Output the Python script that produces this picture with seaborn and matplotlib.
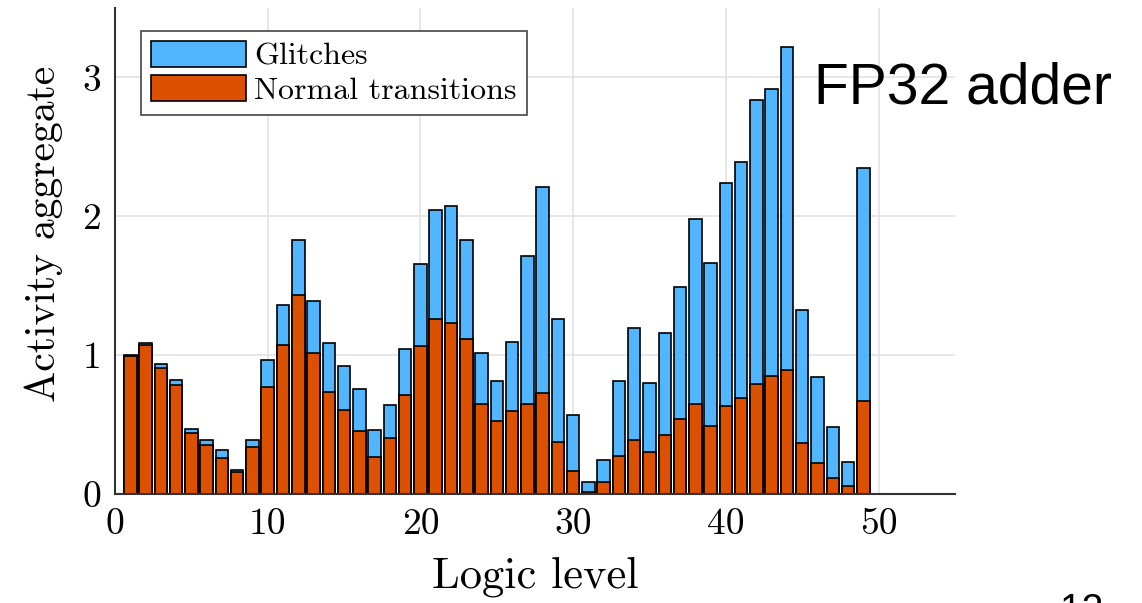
import matplotlib
matplotlib.use("Agg")
import matplotlib.pyplot as plt
from matplotlib.patches import Patch
import seaborn as sns
import pandas as pd

levels = list(range(1, 50))
total = [1.00, 1.09, 0.935, 0.82, 0.465, 0.386, 0.314, 0.173, 0.388, 0.962,
         1.362, 1.827, 1.39, 1.089, 0.923, 0.758, 0.458, 0.643, 1.045, 1.655,
         2.043, 2.072, 1.83, 1.012, 0.81, 1.091, 1.715, 2.211, 1.261, 0.571,
         0.084, 0.245, 0.81, 1.197, 0.799, 1.161, 1.487, 1.978, 1.664, 2.24,
         2.391, 2.839, 2.914, 3.218, 1.324, 0.844, 0.484, 0.233, 2.35]
normal = [0.995, 1.072, 0.906, 0.784, 0.437, 0.352, 0.261, 0.16, 0.34, 0.772,
          1.072, 1.434, 1.012, 0.736, 0.607, 0.453, 0.268, 0.405, 0.714, 1.067,
          1.261, 1.232, 1.117, 0.65, 0.527, 0.60, 0.647, 0.727, 0.372, 0.165,
          0.014, 0.084, 0.273, 0.391, 0.305, 0.422, 0.542, 0.65, 0.487, 0.633,
          0.693, 0.789, 0.847, 0.894, 0.365, 0.225, 0.115, 0.06, 0.667]
series_names = ["Glitches", "Normal transitions"]
x_ticks = [0, 10, 20, 30, 40, 50]
y_ticks = [0, 1, 2, 3]

blue = "#52B6FE"
orange = "#DB5100"

df = pd.DataFrame({"level": levels, "total": total, "normal": normal})

sns.set_style("white")
plt.rcParams["font.family"] = ["cmr10", "DejaVu Serif"]
plt.rcParams["axes.formatter.use_mathtext"] = True
plt.rcParams["text.color"] = "black"
plt.rcParams["axes.labelcolor"] = "black"
plt.rcParams["xtick.labelcolor"] = "black"
plt.rcParams["ytick.labelcolor"] = "black"

fig = plt.figure(figsize=(11.42, 6.03), dpi=100)
ax = fig.add_axes([0.1007, 0.1808, 0.7355, 0.806])

sns.barplot(data=df, x="level", y="total", native_scale=True, color=blue,
            edgecolor="black", linewidth=1.2, width=0.82, saturation=1, ax=ax)
sns.barplot(data=df, x="level", y="normal", native_scale=True, color=orange,
            edgecolor="black", linewidth=1.2, width=0.82, saturation=1, ax=ax)

ax.set_xlim(0, 55)
ax.set_ylim(0, 3.5)
ax.set_xticks(x_ticks)
ax.set_yticks(y_ticks)
ax.set_xticklabels([str(t) for t in x_ticks])
ax.set_yticklabels([str(t) for t in y_ticks])
ax.grid(True, color="#e3e3e3", linewidth=1.2)
ax.set_axisbelow(True)
for s in ["top", "right"]:
    ax.spines[s].set_visible(False)
for s in ["left", "bottom"]:
    ax.spines[s].set_color("#333333")
    ax.spines[s].set_linewidth(1.5)
ax.tick_params(direction="in", length=8, width=1.2, color="#333333",
               labelsize=27, pad=10)
ax.set_xlabel("Logic level", fontsize=32)
ax.set_ylabel("Activity aggregate", fontsize=30)
ax.xaxis.set_label_coords(0.5, -0.128)
ax.yaxis.set_label_coords(-0.062, 0.535)

handles = [Patch(facecolor=blue, edgecolor="black", linewidth=1.2),
           Patch(facecolor=orange, edgecolor="black", linewidth=1.2)]
leg = ax.legend(handles, series_names, loc="upper left",
                bbox_to_anchor=(0.031, 0.9527), fontsize=23, frameon=True,
                fancybox=False, edgecolor="#444444", framealpha=1,
                handlelength=3.0, handleheight=0.9, handletextpad=0.25,
                borderpad=0.3, labelspacing=0.12, borderaxespad=0)
leg.get_frame().set_linewidth(1.2)

fig.text(1112 / 1142, 1 - 103.5 / 603, "FP32 adder", fontsize=41,
         family="Liberation Sans", ha="right", va="baseline", color="black")
fig.text(0.928, -0.03, "12", fontsize=28, family="Liberation Sans",
         ha="left", va="baseline", color="black")

fig.savefig("out.png", dpi=100)
